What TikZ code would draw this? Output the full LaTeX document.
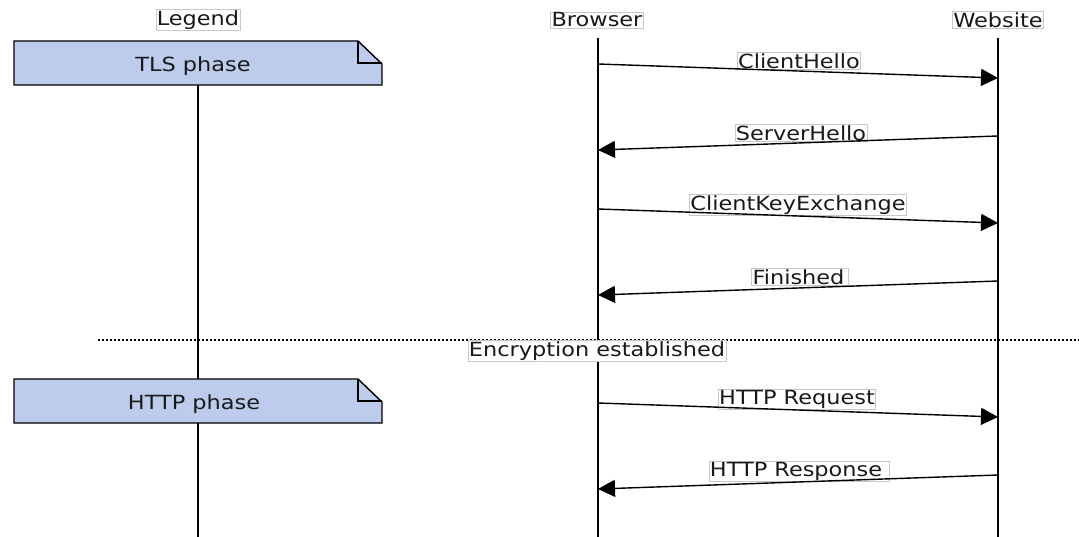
\documentclass[tikz,border=0pt]{standalone}
\usepackage{fontspec}
\setmainfont{DejaVu Sans}[FakeStretch=1.15]
\usetikzlibrary{arrows.meta}
\definecolor{notefill}{RGB}{189,204,236}
\definecolor{tagframe}{RGB}{200,200,200}
\tikzset{
  life/.style={line width=1.4pt, black},
  msg/.style={line width=1.4pt, black, -{Triangle[length=17pt,width=17pt]}},
  txt/.style={font=\fontsize{19.5}{21}\selectfont, text=black!90},
  tag/.style={txt, fill=white, draw=tagframe, line width=0.6pt, inner sep=0.8pt},
  notebox/.style={fill=notefill, draw=black, line width=1.4pt},
}
\begin{document}
\begin{tikzpicture}[x=1pt,y=-1pt]
\useasboundingbox (0,0) rectangle (1079,537);

% lifelines
\coordinate (lgtop) at (198,85);
\coordinate (lgmid) at (198,379);
\coordinate (lgmid2) at (198,423);
\coordinate (lgbot) at (198,537);
\coordinate (brtop) at (598,38);
\coordinate (brbot) at (598,537);
\coordinate (wstop) at (998,38);
\coordinate (wsbot) at (998,537);
\draw[life] (lgtop) -- (lgmid);
\draw[life] (lgmid2) -- (lgbot);
\draw[life] (brtop) -- (brbot);
\draw[life] (wstop) -- (wsbot);

% entity headings
\node[tag] (legend) at (198,20) {Legend};
\node[tag] (browser) at (597,20) {Browser};
\node[tag] (website) at (998,20) {Website};

% phase notes with folded corner
\draw[notebox] (14,41) -- (358,41) -- (382,64) -- (382,85) -- (14,85) -- cycle;
\draw[line width=1.4pt] (358,41) -- (358,63) -- (382,63);
\node[txt] (tls) at (193,66) {TLS phase};
\draw[notebox] (14,379) -- (358,379) -- (382,402) -- (382,423) -- (14,423) -- cycle;
\draw[line width=1.4pt] (358,379) -- (358,401) -- (382,401);
\node[txt] (http) at (194,404) {HTTP phase};

% divider
\coordinate (divl) at (98,340);
\coordinate (divr) at (1079,340);
\draw[line width=1.2pt, dash pattern=on 2pt off 2pt] (divl) -- (divr);
\node[tag] (enc) at (597,351) {Encryption established};

% message labels sit under the arrows
\node[tag] (l1) at (799,61) {ClientHello};
\node[tag] (l2) at (801,133) {ServerHello};
\node[tag] (l3) at (798,205) {ClientKeyExchange};
\node[tag] (l4) at (800,277) {Finished\kern3pt};
\node[tag] (l5) at (797,399) {HTTP Request};
\node[tag] (l6) at (799,471) {HTTP Response\kern6pt};

% messages
\coordinate (m1a) at (598,64);  \coordinate (m1b) at (998,78);
\coordinate (m2a) at (998,136); \coordinate (m2b) at (598,150);
\coordinate (m3a) at (598,209); \coordinate (m3b) at (998,223);
\coordinate (m4a) at (998,281); \coordinate (m4b) at (598,295);
\coordinate (m5a) at (598,403); \coordinate (m5b) at (998,417);
\coordinate (m6a) at (998,475); \coordinate (m6b) at (598,489);
\draw[msg] (m1a) -- (m1b);
\draw[msg] (m2a) -- (m2b);
\draw[msg] (m3a) -- (m3b);
\draw[msg] (m4a) -- (m4b);
\draw[msg] (m5a) -- (m5b);
\draw[msg] (m6a) -- (m6b);
\end{tikzpicture}
\end{document}
